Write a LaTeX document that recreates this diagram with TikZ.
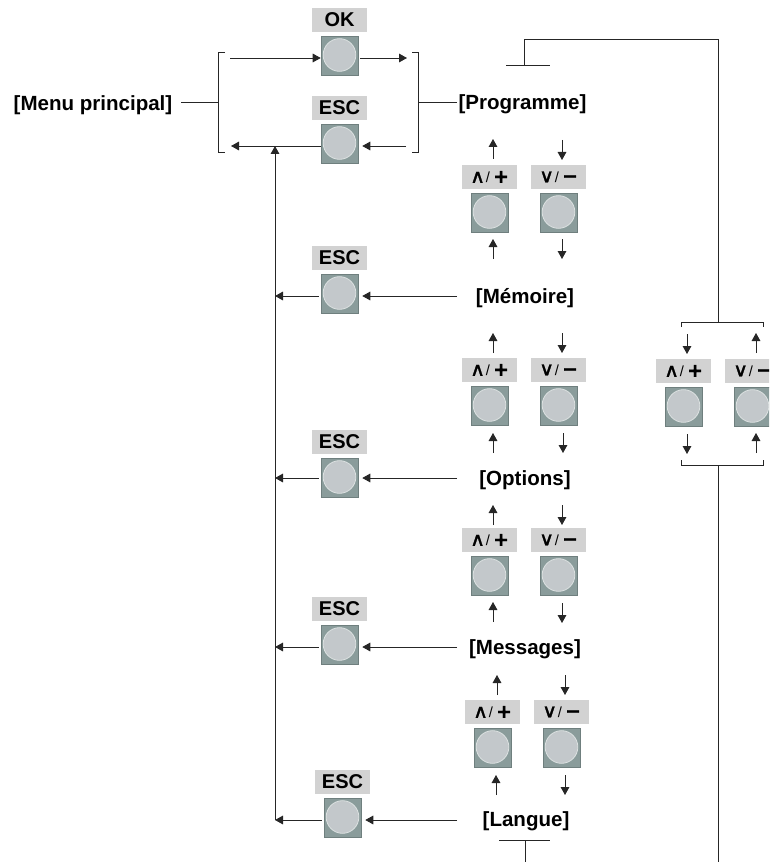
\documentclass[tikz,border=0pt]{standalone}
\usepackage{fontspec}
\setmainfont{Liberation Sans}
\newfontfamily\symfont[FakeBold=1.2]{DejaVu Sans}
\newfontfamily\wedgefont[FakeBold=1.5,FakeStretch=1.1]{DejaVu Sans}
\usetikzlibrary{arrows.meta}
\definecolor{keybg}{HTML}{D2D2D2}
\definecolor{btnbg}{HTML}{8A9C9B}
\definecolor{btnedge}{HTML}{6F7F7E}
\definecolor{btntop}{HTML}{C3C8CB}
\tikzset{
  keylabel/.style={fill=keybg,minimum width=41.25pt,minimum height=18pt,inner sep=0pt,font=\fontsize{15}{16}\selectfont\bfseries},
  btnbox/.style={fill=btnbg,draw=btnedge,line width=.4pt,minimum width=27.75pt,minimum height=29.25pt,inner sep=0pt},
  btncap/.style={circle,fill=btntop,draw=white!70!btnbg,line width=.6pt,minimum size=24.5pt,inner sep=0pt},
  menu/.style={font=\fontsize{15.4}{17}\selectfont\bfseries,inner sep=1pt},
  wire/.style={line width=.7pt,black!85},
  arr/.style={wire,-{Triangle[length=6pt,width=6.5pt]}}
}
% name, cx, button top, label content
\newcommand{\keybtn}[4]{%
  \node[btnbox] (#1) at (#2,#3+19.5) {};
  \node[btncap] (#1c) at (#2,#3+19) {};
  \node[keylabel] (#1l) at (#2,#3-16) {#4};
}
\newcommand{\uplabel}{{\fontsize{14}{14}\selectfont\wedgefont\mdseries ∧}\hspace{.5pt}{\fontsize{11}{12}\selectfont\mdseries /}\hspace{2.5pt}{\symfont\fontsize{14}{14}\selectfont +}}
\newcommand{\downlabel}{{\fontsize{14}{14}\selectfont\wedgefont\mdseries ∨}\hspace{.5pt}{\fontsize{11}{12}\selectfont\mdseries /}\hspace{2.5pt}{\symfont\fontsize{14}{14}\selectfont −}}
\begin{document}
\begin{tikzpicture}[x=.75pt,y=-.75pt]
\useasboundingbox (0,0) rectangle (769,863);
\begin{scope}
\clip (0,0) rectangle (769,863);
\keybtn{ok}{339.5}{36}{OK}
\keybtn{esca}{339.5}{124}{ESC}
\keybtn{escb}{339.5}{274}{ESC}
\keybtn{escc}{339.5}{458}{ESC}
\keybtn{escd}{339.5}{625}{ESC}
\keybtn{esce}{342.5}{798}{ESC}
\keybtn{upa}{489.5}{193}{\uplabel}
\keybtn{dna}{558.5}{193}{\downlabel}
\keybtn{upb}{489.5}{386}{\uplabel}
\keybtn{dnb}{558.5}{386}{\downlabel}
\keybtn{upc}{489.5}{556}{\uplabel}
\keybtn{dnc}{558.5}{556}{\downlabel}
\keybtn{upd}{492.5}{728}{\uplabel}
\keybtn{dnd}{561.5}{728}{\downlabel}
\keybtn{upr}{683.5}{387}{\uplabel}
\keybtn{dnr}{752.5}{387}{\downlabel}
\end{scope}
\node[menu] (main) at (93,105.5) {[Menu principal]};
\node[menu] (prog) at (522.5,104) {[Programme]};
\node[menu] (mem) at (525,298) {[Mémoire]};
\node[menu] (opt) at (525,480) {[Options]};
\node[menu] (msg) at (525,649) {[Messages]};
\node[menu] (lang) at (526,821) {[Langue]};
% brackets
\coordinate (bl) at (218,102); \coordinate (br) at (418,102);
\coordinate (mw) at (181,102); \coordinate (pw) at (457,102);
\draw[wire] (225,52) -- (218,52) -- (218,152) -- (225,152);
\draw[wire] (412,52) -- (418,52) -- (418,152) -- (412,152);
\draw[wire] (mw) -- (bl);
\draw[wire] (pw) -- (br);
\coordinate (t1) at (230,58); \coordinate (t2) at (407,58);
\coordinate (b1) at (231,146); \coordinate (b2) at (406,146);
\draw[arr] (t1) -- (ok.west |- t1);
\draw[arr] ([xshift=1.5pt]ok.east |- t2) -- (t2);
\draw[arr] (esca.west |- b1) -- (b1);
\draw[arr] (b2) -- ([xshift=3pt]esca.east |- b2);
% ESC bus
\coordinate (j0) at (275,146); \coordinate (j4) at (275,820);
\draw[arr] (j4) -- (j0);
\foreach \b/\y/\t in {escb/296/mem,escc/478/opt,escd/647/msg,esce/820/lang}{
  \coordinate (j) at (275,\y);
  \coordinate (src) at (457,\y);
  \draw[arr] ([xshift=-1.5pt]\b.west |- j) -- (j);
  \draw[arr] (src) -- ([xshift=3pt]\b.east |- j);
}
% vertical arrows
\foreach \x/\y in {493/159,493/259,493/353,493/453,493/525,493/622,497/695,496/795,756/353,756/453}{
  \draw[arr] (\x,\y) -- ++(0,-20);
}
\foreach \x/\y in {562/140,562/239,562/333,563/433,562/505,562/603,565/675,565/775,687/334,687/434}{
  \draw[arr] (\x,\y) -- ++(0,20);
}
% right loop
\coordinate (pa) at (506,65); \coordinate (pb) at (550,65); \coordinate (pm) at (524,65);
\coordinate (la) at (499,840); \coordinate (lb) at (550,840); \coordinate (lm) at (525,840);
\coordinate (lend) at (525,862); \coordinate (rend) at (718,862);
\draw[wire] (pa) -- (pb);
\draw[wire] (la) -- (lb);
\draw[wire] (lm) -- (lend);
\draw[wire] (pm) |- (718,39) -- (718,322);
\draw[wire] (681,327) -- (681,322) -- (763,322) -- (763,327);
\draw[wire] (681,460) -- (681,465) -- (763,465) -- (763,460);
\draw[wire] (718,465) -- (rend);
\end{tikzpicture}
\end{document}
